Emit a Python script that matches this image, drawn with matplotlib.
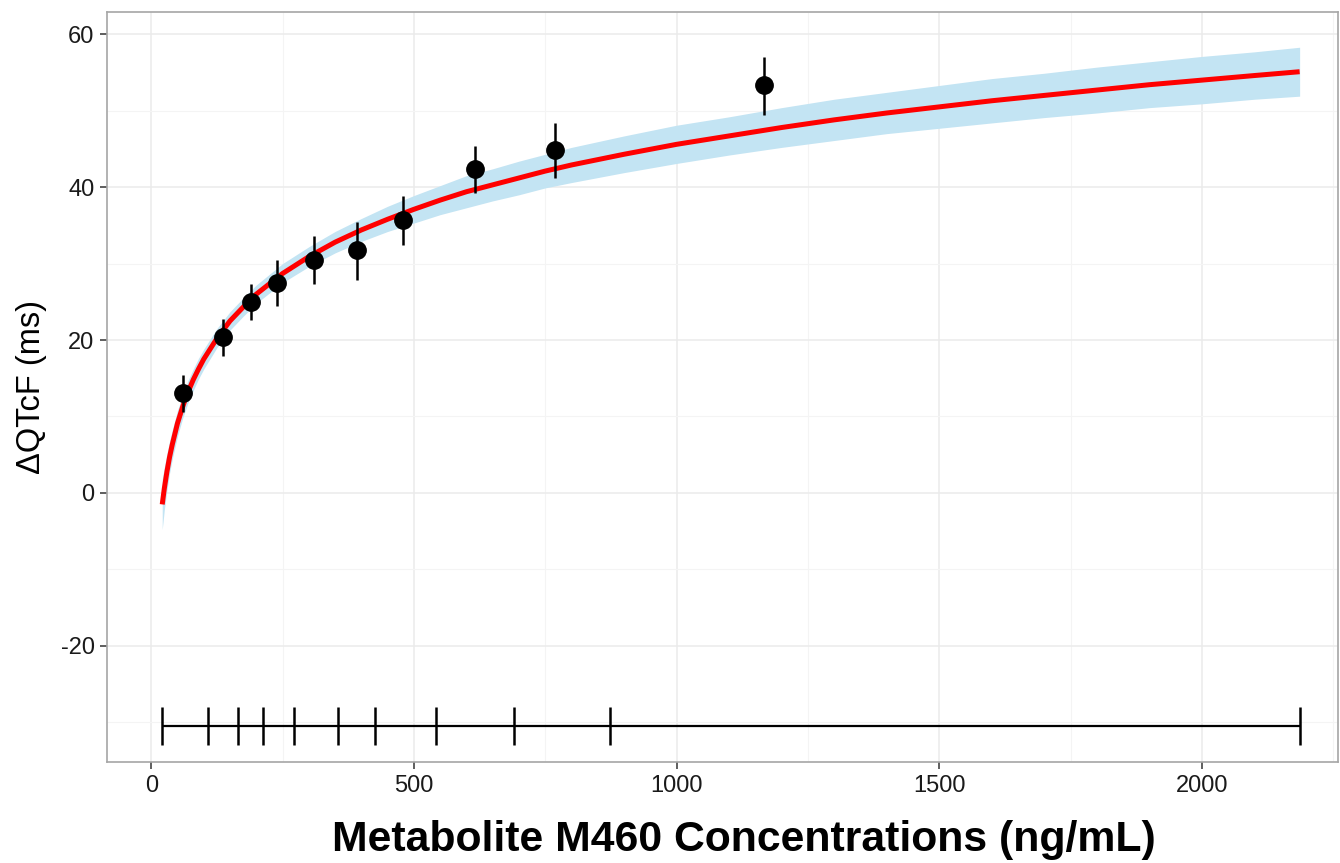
import matplotlib
matplotlib.use("Agg")
import matplotlib.pyplot as plt
from matplotlib.ticker import MultipleLocator

plt.rcParams['font.family'] = ['Liberation Sans', 'DejaVu Sans']
plt.rcParams['axes.unicode_minus'] = False

# Observed binned means with error bars
obs_x = [61, 137, 190, 240, 310, 392, 480, 617, 769, 1167]
obs_y = [13.1, 20.4, 25.0, 27.5, 30.5, 31.8, 35.7, 42.4, 44.8, 53.3]
obs_lo = [10.6, 17.9, 22.6, 24.4, 27.3, 27.8, 32.4, 39.2, 41.2, 49.4]
obs_hi = [15.4, 22.7, 27.3, 30.5, 33.6, 35.4, 38.8, 45.4, 48.4, 57.0]

# Model prediction curve and its band
fit_x = [21, 25, 30, 35, 40, 50, 60, 70, 80, 90, 100, 125, 150, 175, 200, 250, 300, 350, 400, 450,
         500, 550, 600, 650, 700, 750, 800, 900, 1000, 1100, 1200, 1300, 1400, 1500, 1600, 1700,
         1800, 1900, 2000, 2100, 2186]
fit_y = [-1.5, 0.6, 2.8, 4.7, 6.3, 9.1, 11.3, 13.2, 14.8, 16.2, 17.5, 20.2, 22.5, 24.3, 26.0, 28.7, 30.9, 32.8, 34.4, 35.8,
         37.1, 38.3, 39.4, 40.3, 41.2, 42.1, 42.9, 44.3, 45.6, 46.7, 47.8, 48.8, 49.7, 50.5, 51.3, 52.0,
         52.7, 53.4, 54.0, 54.6, 55.1]
fit_lo = [-4.8, -2.2, 0.4, 2.6, 4.4, 7.4, 9.8, 11.8, 13.4, 14.9, 16.2, 19.0, 21.3, 23.1, 24.8, 27.5, 29.6, 31.4, 32.9, 34.2,
          35.3, 36.4, 37.3, 38.2, 39.0, 39.9, 40.6, 41.9, 43.1, 44.2, 45.2, 46.1, 47.0, 47.7, 48.4, 49.1,
          49.7, 50.4, 50.9, 51.5, 51.9]
fit_hi = [1.8, 3.4, 5.2, 6.8, 8.2, 10.8, 12.8, 14.7, 16.2, 17.6, 18.8, 21.5, 23.7, 25.5, 27.2, 30.0, 32.2, 34.2, 35.9, 37.5,
          38.9, 40.2, 41.5, 42.4, 43.4, 44.3, 45.2, 46.7, 48.1, 49.2, 50.4, 51.5, 52.4, 53.3, 54.2, 54.9,
          55.7, 56.4, 57.1, 57.7, 58.3]

# Concentration bin edges (rug)
bin_edges = [21, 108, 165, 213, 272, 356, 426, 542, 691, 873, 2186]
rug_y = -30.5

x_ticks = [0, 500, 1000, 1500, 2000]
y_ticks = [-20, 0, 20, 40, 60]

fig = plt.figure(figsize=(13.4, 8.63), dpi=100)
ax = fig.add_axes([0.0799, 0.117, 0.9186, 0.869])

ax.fill_between(fit_x, fit_lo, fit_hi, color='#c3e4f3', lw=0, zorder=2)
ax.plot(fit_x, fit_y, color='#ff0000', lw=3.6, zorder=3, solid_capstyle='butt')

ax.vlines(obs_x, obs_lo, obs_hi, color='black', lw=1.8, zorder=4)
ax.plot(obs_x, obs_y, 'o', color='black', ms=12.5, zorder=5)

ax.hlines(rug_y, bin_edges[0], bin_edges[-1], color='black', lw=1.6, zorder=4)
ax.vlines(bin_edges, rug_y - 2.5, rug_y + 2.5, color='black', lw=1.8, zorder=4)

ax.set_xlim(-84, 2259)
ax.set_ylim(-35.2, 62.9)
ax.set_xticks(x_ticks)
ax.set_yticks(y_ticks)
ax.xaxis.set_minor_locator(MultipleLocator(250))
ax.yaxis.set_minor_locator(MultipleLocator(10))
ax.grid(True, which='major', color='#ebebeb', lw=1.1, zorder=0)
ax.grid(True, which='minor', color='#f4f4f4', lw=0.8, zorder=0)
ax.set_axisbelow(True)
ax.tick_params(which='minor', length=0)
ax.tick_params(which='major', length=5, width=1.1, color='#333333', labelsize=17, labelcolor='#1a1a1a', pad=4)
for s in ax.spines.values():
    s.set_color('#a6a6a6')
    s.set_linewidth(1.2)

ax.set_xlabel('Metabolite M460 Concentrations (ng/mL)', fontsize=30.8, fontweight='bold', labelpad=17)
ax.xaxis.label.set_x(0.5175)
ax.set_ylabel('ΔQTcF (ms)', fontsize=23.5, labelpad=9.5)

fig.savefig('out.png', dpi=100)
